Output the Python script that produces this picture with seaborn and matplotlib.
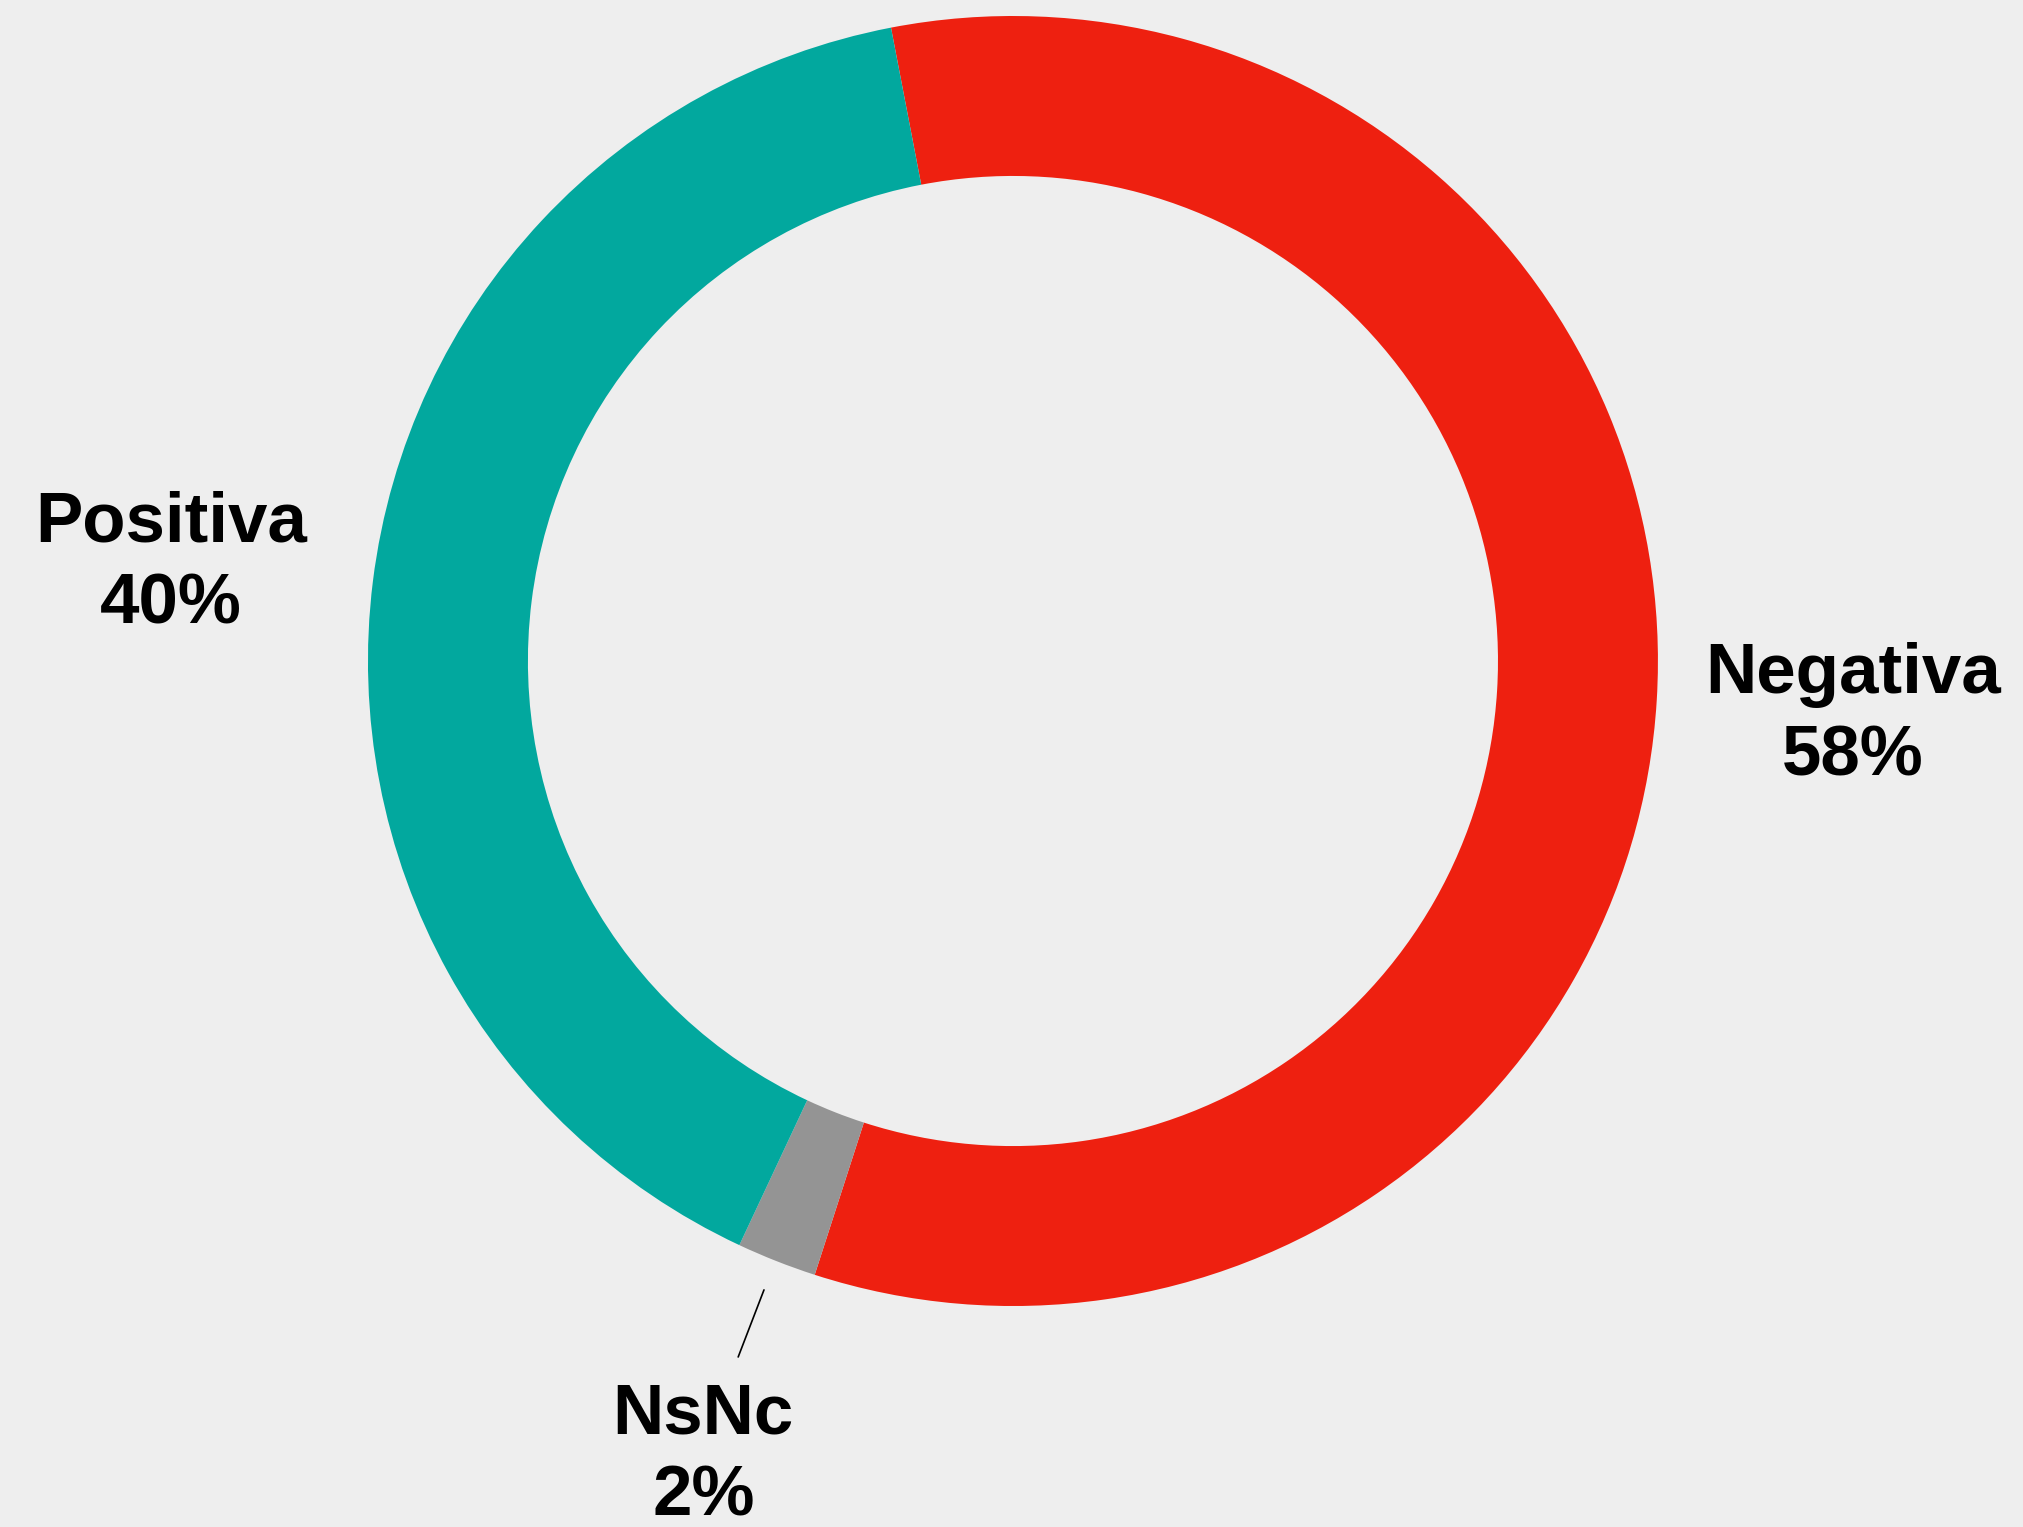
import matplotlib
matplotlib.use("Agg")
import matplotlib.pyplot as plt
import seaborn as sns

# datos del grafico (porcentajes)
categorias = ['Negativa', 'NsNc', 'Positiva']
valores = [58, 2, 40]
colores = ['#EE2010', '#949494', '#02A89E']

# posicion de las etiquetas (coordenadas de datos, radio externo = 1)
pos_etiquetas = {'Negativa': (1.302, -0.086), 'Positiva': (-1.305, 0.150), 'NsNc': (-0.48, -1.233)}

sns.set_theme(style='white')
plt.rcParams['font.family'] = ['Liberation Sans', 'DejaVu Sans']

fondo = '#EEEEEE'
fig = plt.figure(figsize=(20.23, 15.27), dpi=100, facecolor=fondo)
ax = fig.add_axes([0, 0, 1, 1])
ax.set_facecolor(fondo)

wedges, _ = ax.pie(valores, colors=colores, startangle=100.9, counterclock=False,
                   radius=1, wedgeprops=dict(width=0.248, edgecolor='none', linewidth=0))

# limites para ubicar el anillo como en el original
ax.set_xlim(-1.5705, 1.566)
ax.set_ylim(-1.3426, 1.0248)
ax.set_aspect('auto')
ax.axis('off')

for cat, val in zip(categorias, valores):
    x, y = pos_etiquetas[cat]
    ax.text(x, y, f'{cat}\n{val}%', ha='center', va='center', fontsize=51,
            fontweight='bold', color='black', linespacing=1.32)

# linea guia para NsNc
ax.plot([-0.386, -0.426], [-0.975, -1.079], color='black', linewidth=1.2)

fig.savefig('out.png', dpi=100, facecolor=fondo)
